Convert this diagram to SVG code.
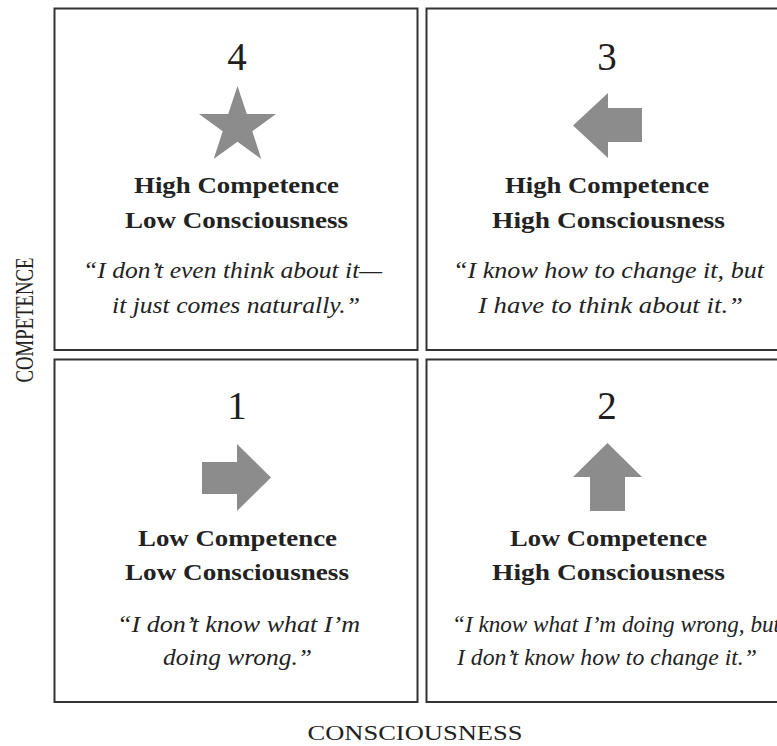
<svg xmlns="http://www.w3.org/2000/svg" width="777" height="746" viewBox="0 0 777 746">
<style>
  .box { fill: #ffffff; stroke: #333333; stroke-width: 2; }
  .icon { fill: #8c8c8c; }
  .num { font-family: "Liberation Serif", serif; font-size: 39px; fill: #1e1e1e; text-anchor: middle; }
  .head { font-family: "Liberation Serif", serif; font-size: 23px; font-weight: bold; fill: #222222; text-anchor: middle; }
  .quote { font-family: "Liberation Serif", serif; font-size: 23px; font-style: italic; fill: #222222; text-anchor: middle; }
  .axis { font-family: "Liberation Serif", serif; font-size: 22px; fill: #222222; text-anchor: middle; }
</style>
<rect x="0" y="0" width="777" height="746" fill="#ffffff"/>
<g id="q4">
  <rect class="box" x="54.5" y="8.5" width="363" height="341.5"/>
  <text class="num" x="237" y="70">4</text>
  <polygon class="icon" points="237.5,86 246.8,114 276,114 252.3,131.2 261.3,159 237.5,141.8 213.7,159 222.7,131.2 199,114 228.2,114"/>
  <text class="head" x="236.5" y="193" textLength="205" lengthAdjust="spacingAndGlyphs">High Competence</text>
  <text class="head" x="236.5" y="228" textLength="223" lengthAdjust="spacingAndGlyphs">Low Consciousness</text>
  <text class="quote" x="232.5" y="278" textLength="299" lengthAdjust="spacingAndGlyphs">“I don’t even think about it—</text>
  <text class="quote" x="236" y="313" textLength="248" lengthAdjust="spacingAndGlyphs">it just comes naturally.”</text>
</g>
<g id="q3">
  <rect class="box" x="426.5" y="8.5" width="364" height="341.5"/>
  <text class="num" x="607" y="70">3</text>
  <polygon class="icon" points="573,125.5 608,93 608,108 642,108 642,142 608,142 608,158"/>
  <text class="head" x="607" y="193" textLength="204" lengthAdjust="spacingAndGlyphs">High Competence</text>
  <text class="head" x="608.5" y="228" textLength="233" lengthAdjust="spacingAndGlyphs">High Consciousness</text>
  <text class="quote" x="608.5" y="278" textLength="311" lengthAdjust="spacingAndGlyphs">“I know how to change it, but</text>
  <text class="quote" x="610.5" y="313" textLength="265" lengthAdjust="spacingAndGlyphs">I have to think about it.”</text>
</g>
<g id="q1">
  <rect class="box" x="54.5" y="359.5" width="363" height="342.5"/>
  <text class="num" x="237" y="419">1</text>
  <polygon class="icon" points="202,462 237,462 237,444 271,477.5 237,511 237,494 202,494"/>
  <text class="head" x="237.5" y="546" textLength="199" lengthAdjust="spacingAndGlyphs">Low Competence</text>
  <text class="head" x="237" y="580" textLength="224" lengthAdjust="spacingAndGlyphs">Low Consciousness</text>
  <text class="quote" x="238.5" y="632" textLength="243" lengthAdjust="spacingAndGlyphs">“I don’t know what I’m</text>
  <text class="quote" x="237.5" y="665" textLength="149" lengthAdjust="spacingAndGlyphs">doing wrong.”</text>
</g>
<g id="q2">
  <rect class="box" x="426.5" y="359.5" width="364" height="342.5"/>
  <text class="num" x="607" y="419">2</text>
  <polygon class="icon" points="607.5,443 642,477 625,477 625,511 590,511 590,477 573,477"/>
  <text class="head" x="608.5" y="546" textLength="197" lengthAdjust="spacingAndGlyphs">Low Competence</text>
  <text class="head" x="608.5" y="580" textLength="233" lengthAdjust="spacingAndGlyphs">High Consciousness</text>
  <text class="quote" x="452" y="632" style="text-anchor:start" textLength="328" lengthAdjust="spacingAndGlyphs">“I know what I’m doing wrong, but</text>
  <text class="quote" x="607" y="665" textLength="300" lengthAdjust="spacingAndGlyphs">I don’t know how to change it.”</text>
</g>
<g id="axes">
  <text class="axis" x="415" y="740" textLength="215" lengthAdjust="spacingAndGlyphs">CONSCIOUSNESS</text>
  <text class="axis" style="font-size:25px" transform="translate(33,320) rotate(-90)" x="0" y="0" textLength="125" lengthAdjust="spacingAndGlyphs">COMPETENCE</text>
</g>
<g id="connectors"></g>
</svg>
